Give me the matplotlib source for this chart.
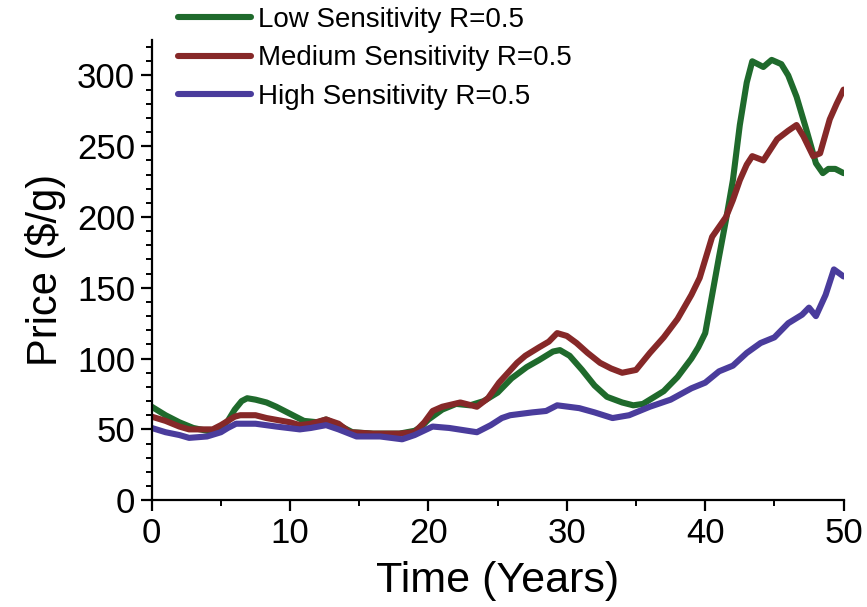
import numpy as np
import matplotlib
matplotlib.use("Agg")
import matplotlib.pyplot as plt
from matplotlib.ticker import MultipleLocator

plt.rcParams['font.family'] = ['Liberation Sans', 'DejaVu Sans']

# Low sensitivity
t_low = [0, 1, 2, 3, 4, 4.5, 5, 5.5, 6, 6.5, 6.9, 7.5, 8.3, 9, 10, 11, 12, 12.6, 13.5, 14.5, 16, 17.9, 19, 19.5, 20, 21, 22, 23, 24, 25, 26, 27.1, 28, 28.5, 29, 29.5, 30.2, 31.1, 32, 32.9, 34, 34.8, 35.5, 36, 37, 38, 39, 39.5, 40, 40.5, 41, 41.5, 42, 42.5, 43, 43.4, 44.2, 44.8, 45.5, 46, 46.6, 47.3, 48, 48.5, 48.9, 49.4, 50]
v_low = [66, 60, 55, 51, 49, 49, 51, 56, 64, 70, 72, 71, 69, 66, 61, 56, 55, 57, 53, 48, 47, 47, 49, 52, 57, 64, 68, 67, 70, 76, 86, 94, 99, 102, 105, 106, 102, 92, 81, 73, 69, 67, 68, 71, 77, 87, 100, 108, 118, 145, 172, 198, 226, 265, 295, 310, 306, 311, 308, 300, 285, 262, 238, 231, 234, 234, 231]
# Medium sensitivity
t_med = [0, 1, 2, 2.7, 3.5, 4.4, 5, 5.5, 6, 6.4, 7.5, 8.3, 10, 10.7, 11.5, 12.6, 13.5, 14.3, 16, 17.9, 19, 19.7, 20.3, 21, 22.3, 23.5, 24.3, 25.1, 26.4, 27, 28, 28.7, 29.3, 30, 30.7, 31.5, 32.4, 33.2, 34, 35, 36, 37, 38, 39, 39.6, 40.5, 41.5, 42, 42.5, 43, 43.4, 44.2, 45.2, 46, 46.6, 47.1, 47.8, 48.3, 49, 49.5, 50]
v_med = [59, 56, 52, 50, 50, 50, 53, 56, 59, 60, 60, 58, 55, 53, 54, 57, 54, 48, 47, 47, 48, 55, 63, 66, 69, 66, 72, 83, 97, 102, 108, 112, 118, 116, 111, 104, 97, 93, 90, 92, 104, 115, 128, 145, 157, 186, 200, 212, 226, 237, 243, 240, 255, 261, 265, 257, 243, 245, 269, 280, 290]
# High sensitivity
t_high = [0, 1, 2, 2.7, 4, 5, 5.5, 6.1, 7.5, 9, 10.7, 11.5, 12.6, 13.5, 14.8, 16.5, 18.1, 19, 20.3, 21.5, 23.5, 24.5, 25.3, 25.9, 27.5, 28.5, 29.3, 30.9, 32, 33.3, 34.5, 36, 37.5, 39, 40, 41, 42, 43, 44, 45, 46, 47, 47.5, 48, 48.7, 49.3, 50]
v_high = [51, 48, 46, 44, 45, 48, 51, 54, 54, 52, 50, 51, 53, 50, 45, 45, 43, 46, 52, 51, 48, 53, 58, 60, 62, 63, 67, 65, 62, 58, 60, 66, 71, 79, 83, 91, 95, 104, 111, 115, 125, 131, 136, 130, 145, 163, 158]

labels = ['Low Sensitivity R=0.5', 'Medium Sensitivity R=0.5', 'High Sensitivity R=0.5']
colors = ['#1f6a2c', '#862828', '#4a3c9c']

fig = plt.figure(figsize=(8.67, 6.07), dpi=100)
ax = fig.add_axes([0.175, 0.176, 0.798, 0.758])
for t, v, lab, c in zip([t_low, t_med, t_high], [v_low, v_med, v_high], labels, colors):
    ax.plot(t, v, color=c, lw=4.4, label=lab,
            solid_capstyle='round', solid_joinstyle='round')

ax.set_xlim(0, 50)
ax.set_ylim(0, 325)
ax.xaxis.set_major_locator(MultipleLocator(10))
ax.xaxis.set_minor_locator(MultipleLocator(5))
ax.yaxis.set_major_locator(MultipleLocator(50))
ax.yaxis.set_minor_locator(MultipleLocator(10))
ax.spines['top'].set_visible(False)
ax.spines['right'].set_visible(False)
for s in ['left', 'bottom']:
    ax.spines[s].set_linewidth(1.6)
ax.tick_params(which='major', length=8, width=1.6, labelsize=25, pad=4)
ax.tick_params(which='minor', length=4, width=1.4)
ax.set_xlabel('Time (Years)', fontsize=31, labelpad=8)
ax.set_ylabel('Price ($/g)', fontsize=30, labelpad=8)

fig.legend(loc='upper left', bbox_to_anchor=(0.177, 1.03), frameon=False,
           fontsize=20, handlelength=2.6, handletextpad=0.25, labelspacing=0.45)

fig.savefig('out.png', dpi=100)
